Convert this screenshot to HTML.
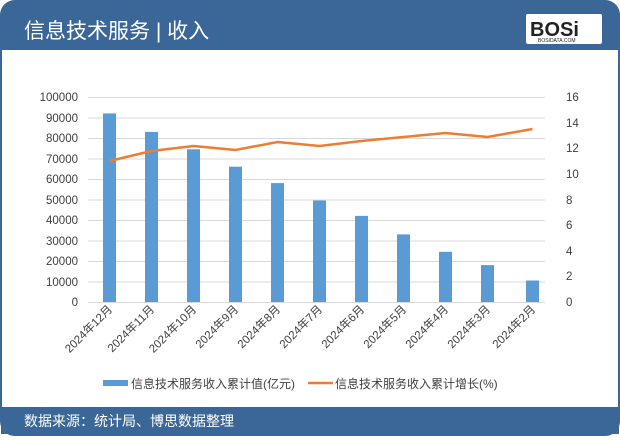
<!DOCTYPE html><html><head><meta charset="utf-8"><style>
body{margin:0;width:620px;height:436px;background:#fff;overflow:hidden;font-family:"Liberation Sans","Noto Sans CJK SC",sans-serif}
</style></head><body>
<svg width="620" height="436" xmlns="http://www.w3.org/2000/svg" font-family="Liberation Sans, Noto Sans CJK SC, sans-serif">
<rect x="1" y="1" width="618" height="434" rx="14" fill="#fff" stroke="#3a6797" stroke-width="2"/>
<path d="M1 50 V15 A14 14 0 0 1 15 1 H605 A14 14 0 0 1 619 15 V50 Z" fill="#3a6797"/>
<text x="24" y="38" font-size="21" fill="#fff">信息技术服务 | 收入</text>
<rect x="526" y="14" width="76" height="30" fill="#fff" rx="2"/>
<text x="530" y="36" font-size="20" font-weight="bold" fill="#222">BOSi</text>
<text x="538" y="42" font-size="5" fill="#222">BOSIDATA.COM</text>
<rect x="1" y="407" width="618" height="27" fill="#3a6797"/>
<text x="24" y="426" font-size="14" fill="#fff">数据来源：统计局、博思数据整理</text>
<g stroke="#d9d9d9" stroke-width="1">
<line x1="88" x2="545" y1="97.5" y2="97.5"/><line x1="88" x2="545" y1="118" y2="118"/><line x1="88" x2="545" y1="138.5" y2="138.5"/><line x1="88" x2="545" y1="159" y2="159"/><line x1="88" x2="545" y1="179.5" y2="179.5"/><line x1="88" x2="545" y1="200" y2="200"/><line x1="88" x2="545" y1="220.5" y2="220.5"/><line x1="88" x2="545" y1="241" y2="241"/><line x1="88" x2="545" y1="261.5" y2="261.5"/><line x1="88" x2="545" y1="282" y2="282"/><line x1="88" x2="545" y1="302.5" y2="302.5"/>
</g>
<g font-size="11.5" fill="#404040" text-anchor="end">
<text x="78" y="101">100000</text><text x="78" y="122">90000</text><text x="78" y="142">80000</text><text x="78" y="163">70000</text><text x="78" y="183">60000</text><text x="78" y="204">50000</text><text x="78" y="224">40000</text><text x="78" y="245">30000</text><text x="78" y="265">20000</text><text x="78" y="286">10000</text><text x="78" y="306">0</text>
</g>
<g font-size="11.5" fill="#404040">
<text x="566" y="101">16</text><text x="566" y="127">14</text><text x="566" y="152">12</text><text x="566" y="178">10</text><text x="566" y="204">8</text><text x="566" y="229">6</text><text x="566" y="255">4</text><text x="566" y="280">2</text><text x="566" y="306">0</text>
</g>
<g fill="#5b9bd5">
<rect x="103" y="113.4" width="13" height="188.6"/>
<rect x="145" y="131.9" width="13" height="170.1"/>
<rect x="187" y="149.3" width="13" height="152.7"/>
<rect x="229" y="166.7" width="13" height="135.3"/>
<rect x="271" y="183.1" width="13" height="118.9"/>
<rect x="313" y="200.5" width="13" height="101.5"/>
<rect x="355" y="215.9" width="13" height="86.1"/>
<rect x="397" y="234.4" width="13" height="67.6"/>
<rect x="439" y="251.8" width="13" height="50.2"/>
<rect x="481" y="265.1" width="13" height="36.9"/>
<rect x="526" y="280.5" width="13" height="21.5"/>
</g>
<polyline fill="none" stroke="#ed7d31" stroke-width="2.5" points="109.5,161 151.5,151 193.5,146 235.5,150 277.5,142 319.5,146 361.5,141 403.5,137 445.5,133 487.5,137 532.5,129"/>
<g font-size="11.5" fill="#404040" text-anchor="end">
<text transform="translate(113,310) rotate(-45)">2024年12月</text>
<text transform="translate(155,310) rotate(-45)">2024年11月</text>
<text transform="translate(197,310) rotate(-45)">2024年10月</text>
<text transform="translate(239,310) rotate(-45)">2024年9月</text>
<text transform="translate(281,310) rotate(-45)">2024年8月</text>
<text transform="translate(323,310) rotate(-45)">2024年7月</text>
<text transform="translate(365,310) rotate(-45)">2024年6月</text>
<text transform="translate(407,310) rotate(-45)">2024年5月</text>
<text transform="translate(449,310) rotate(-45)">2024年4月</text>
<text transform="translate(491,310) rotate(-45)">2024年3月</text>
<text transform="translate(536,310) rotate(-45)">2024年2月</text>
</g>
<rect x="103" y="380" width="25" height="6" fill="#5b9bd5"/>
<text x="131" y="388" font-size="12" fill="#404040">信息技术服务收入累计值(亿元)</text>
<line x1="308" x2="333" y1="383" y2="383" stroke="#ed7d31" stroke-width="2.5"/>
<text x="335" y="388" font-size="12" fill="#404040">信息技术服务收入累计增长(%)</text>
</svg>
</body></html>
